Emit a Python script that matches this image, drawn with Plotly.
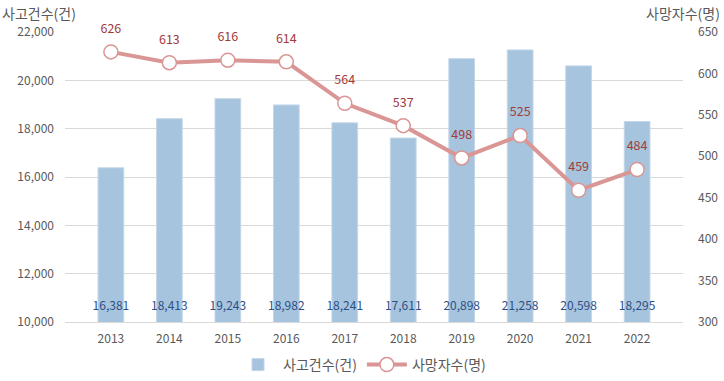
import plotly.graph_objects as go

years = ["2013", "2014", "2015", "2016", "2017", "2018", "2019", "2020", "2021", "2022"]
accidents = [16381, 18413, 19243, 18982, 18241, 17611, 20898, 21258, 20598, 18295]
deaths = [626, 613, 616, 614, 564, 537, 498, 525, 459, 484]

FONT = "Noto Sans CJK KR"

fig = go.Figure()
fig.add_trace(go.Bar(
    x=years, y=accidents, name="사고건수(건)",
    marker=dict(color="#a6c4dd", line=dict(color="#c3d7ea", width=1)),
    width=0.44,
    yaxis="y",
))
# bar value labels near the base
fig.add_trace(go.Scatter(
    x=years, y=[10620] * len(years), mode="text",
    text=[f"{v:,}" for v in accidents],
    textfont=dict(color="#2e4f86", size=12, family=FONT),
    showlegend=False, hoverinfo="skip", yaxis="y", cliponaxis=False,
))
fig.add_trace(go.Scatter(
    x=years, y=deaths, name="사망자수(명)",
    mode="lines+markers",
    line=dict(color="#d99694", width=4),
    marker=dict(size=14, color="white", line=dict(color="#d99694", width=1.5)),
    yaxis="y2", cliponaxis=False,
))
# line value labels above the points
fig.add_trace(go.Scatter(
    x=years, y=deaths, mode="markers+text",
    marker=dict(size=24, opacity=0),
    text=[str(v) for v in deaths],
    textposition="top center",
    textfont=dict(color="#a23b3b", size=12.5, family=FONT),
    showlegend=False, hoverinfo="skip", yaxis="y2", cliponaxis=False,
))

fig.update_layout(
    width=724, height=381,
    margin=dict(l=65, r=41, t=32, b=59, autoexpand=False),
    paper_bgcolor="white", plot_bgcolor="white",
    font=dict(family=FONT, color="#595959", size=12),
    xaxis=dict(showgrid=False, showline=True, linecolor="#d9d9d9", ticks="",
               tickfont=dict(size=12, color="#595959"), automargin=False,
               ticklabelstandoff=6),
    yaxis=dict(range=[10000, 22000], tick0=10000, dtick=2000, tickformat=",",
               showgrid=True, gridcolor="#d9d9d9", zeroline=False,
               tickfont=dict(size=12, color="#595959"), ticklabelstandoff=10, automargin=False),
    yaxis2=dict(range=[300, 650], dtick=50, overlaying="y", side="right",
                showgrid=False, zeroline=False,
                tickfont=dict(size=12, color="#595959"), ticklabelstandoff=14, automargin=False),
    legend=dict(orientation="h", x=0.5, xanchor="center", xref="container",
                y=0.042, yanchor="middle", yref="container",
                font=dict(size=14, color="#595959"), itemwidth=40),
    showlegend=True,
)
fig.add_annotation(text="사고건수(건)", xref="paper", yref="paper", x=0, xshift=-65, y=1, yshift=19,
                   xanchor="left", yanchor="middle", showarrow=False,
                   font=dict(size=14, color="#595959", family=FONT))
fig.add_annotation(text="사망자수(명)", xref="paper", yref="paper", x=1, xshift=39, y=1, yshift=19,
                   xanchor="right", yanchor="middle", showarrow=False,
                   font=dict(size=14, color="#595959", family=FONT))

fig.write_html("out.html", config={"displayModeBar": False},
               post_script="document.body.style.margin='0';")
